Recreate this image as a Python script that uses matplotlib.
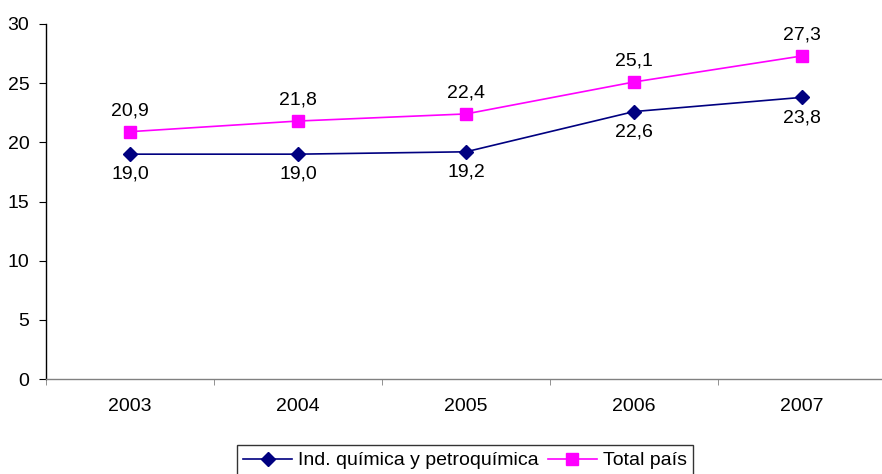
import matplotlib
matplotlib.use("Agg")
import matplotlib.pyplot as plt
import numpy as np

years = ["2003", "2004", "2005", "2006", "2007"]
quimica = [19.0, 19.0, 19.2, 22.6, 23.8]
total = [20.9, 21.8, 22.4, 25.1, 27.3]
label_quimica = "Ind. química y petroquímica"
label_total = "Total país"
yticks = [0, 5, 10, 15, 20, 25, 30]

plt.rcParams['font.family'] = ['Liberation Sans', 'DejaVu Sans']
plt.rcParams['font.size'] = 14

fig = plt.figure(figsize=(8.82, 4.74), dpi=100)
ax = fig.add_axes([46/882, 1-379/474, 840/882, (379-24)/474])

x = np.arange(len(years))
l1, = ax.plot(x, quimica, color='#000080', lw=1.2, marker='D', ms=7.2, label=label_quimica)
l2, = ax.plot(x, total, color='#FF00FF', lw=1.2, marker='s', ms=8.5, label=label_total)

def fmt(v):
    return f"{v:.1f}".replace('.', ',')

for xi, v in zip(x, quimica):
    ax.annotate(fmt(v), (xi, v), xytext=(0, -14.5), textcoords='offset points',
                ha='center', va='center', fontsize=14)
for xi, v in zip(x, total):
    ax.annotate(fmt(v), (xi, v), xytext=(0, 15), textcoords='offset points',
                ha='center', va='center', fontsize=14)

ax.set_xlim(-0.5, len(years) - 0.5)
ax.set_ylim(0, 30)
ax.set_yticks(yticks)
ax.set_xticks(x)
ax.set_xticklabels(years)
ax.set_xticks(np.arange(-0.5, len(years), 1.0), minor=True)
ax.tick_params(axis='x', which='major', length=0, pad=14)
ax.tick_params(axis='x', which='minor', length=4, color='#808080', direction='out')
ax.tick_params(axis='y', length=5, pad=7, direction='out')

for s in ['top', 'right']:
    ax.spines[s].set_visible(False)
ax.spines['left'].set_color('black')
ax.spines['bottom'].set_color('#808080')
ax.spines['left'].set_linewidth(1.0)
ax.spines['bottom'].set_linewidth(1.0)

leg = fig.legend(handles=[l1, l2], loc='upper center', ncol=2,
                 bbox_to_anchor=(465/882, 1-445/474), frameon=True, fancybox=False,
                 handlelength=2.5, handletextpad=0.3, columnspacing=0.5,
                 borderaxespad=0, borderpad=0.35, fontsize=14)
leg.get_frame().set_edgecolor('black')
leg.get_frame().set_linewidth(1.0)

fig.savefig("out.png", dpi=100)
